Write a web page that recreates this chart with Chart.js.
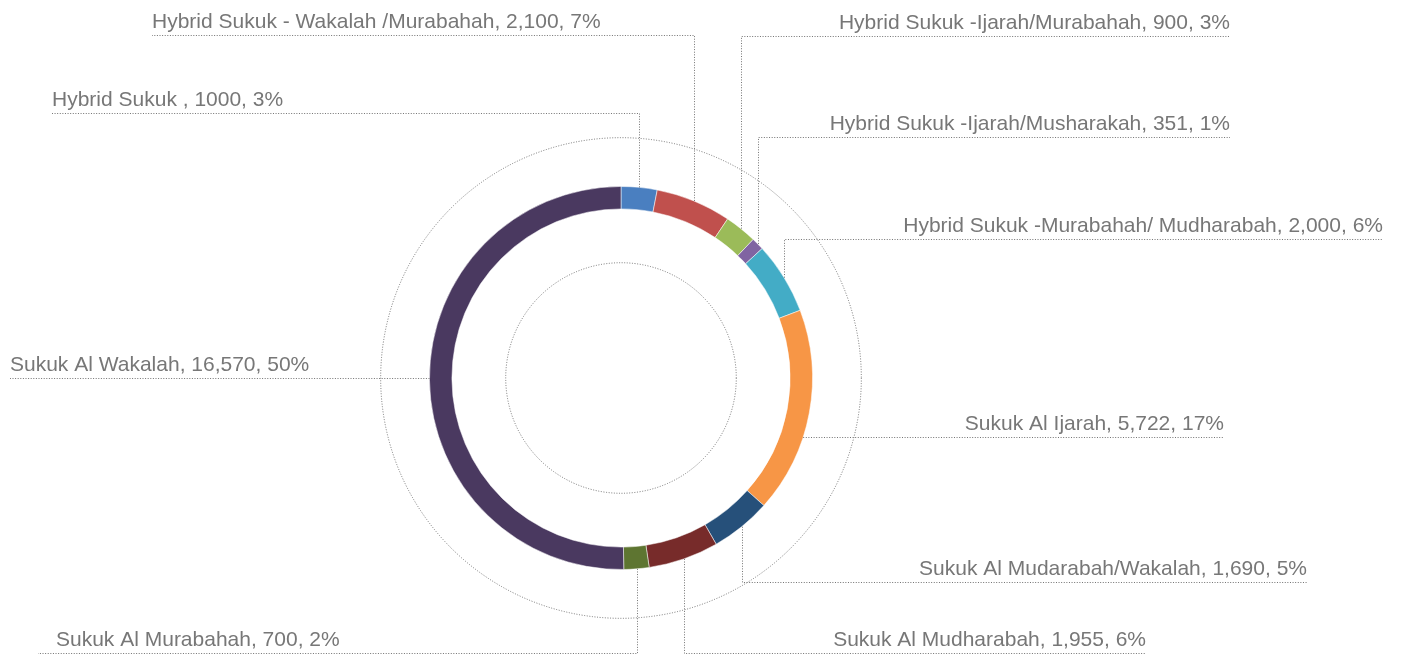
<!DOCTYPE html>
<html>
<head>
<meta charset="utf-8">
<script src="https://cdn.jsdelivr.net/npm/chart.js@4"></script>
<style>
  html, body { margin: 0; padding: 0; background: #fff; overflow: hidden; }
</style>
</head>
<body>
<canvas id="sukuk__chart" width="1401" height="657"></canvas>
<script>
const categories = [
    'Hybrid Sukuk ',
    'Hybrid Sukuk - Wakalah /Murabahah',
    'Hybrid Sukuk -Ijarah/Murabahah',
    'Hybrid Sukuk -Ijarah/Musharakah',
    'Hybrid Sukuk -Murabahah/ Mudharabah',
    'Sukuk Al Ijarah',
    'Sukuk Al Mudarabah/Wakalah',
    'Sukuk Al Mudharabah',
    'Sukuk Al Murabahah',
    'Sukuk Al Wakalah'
];
const values = [1000, 2100, 900, 351, 2000, 5722, 1690, 1955, 700, 16570];
const valueLabels = ['1000', '2,100', '900', '351', '2,000', '5,722', '1,690', '1,955', '700', '16,570'];
const pctLabels = ['3%', '7%', '3%', '1%', '6%', '17%', '5%', '6%', '2%', '50%'];

const sliceColors = ['#4a7fc0', '#c0504d', '#9bbb59', '#8064a2', '#43acc6',
                     '#f79646', '#26507a', '#772b2a', '#5e7531', '#4a3960'];

// where each label sits (x = outer end of the underline, y = underline)
const labelLayout = [
    { side: 'left',  x: 52,   y: 113, kind: 'v' },
    { side: 'left',  x: 152,  y: 35,  kind: 'v' },
    { side: 'right', x: 1230, y: 36,  kind: 'v' },
    { side: 'right', x: 1230, y: 137, kind: 'v' },
    { side: 'right', x: 1383, y: 239, kind: 'v' },
    { side: 'right', x: 1224, y: 437, kind: 'h' },
    { side: 'right', x: 1307, y: 582, kind: 'v' },
    { side: 'right', x: 1146, y: 653, kind: 'v' },
    { side: 'left',  x: 38,   y: 653, kind: 'v', textX: 56 },
    { side: 'left',  x: 10,   y: 378, kind: 'h' }
];

const dotted = (ctx) => {
    ctx.setLineDash([1, 1.6]);
    ctx.lineWidth = 1;
    ctx.strokeStyle = '#727272';
};

const leaderPlugin = {
    id: 'leaders',
    afterDatasetsDraw(chart) {
        const ctx = chart.ctx;
        const arcs = chart.getDatasetMeta(0).data;
        const cx = arcs[0].x, cy = arcs[0].y, r = arcs[0].outerRadius;

        ctx.save();
        dotted(ctx);
        // background rings
        [1.255, 0.602].forEach(f => {
            ctx.beginPath();
            ctx.arc(cx, cy, r * f, 0, Math.PI * 2);
            ctx.stroke();
        });

        ctx.font = '21px "Liberation Sans", Arial, sans-serif';
        ctx.fillStyle = '#777777';
        ctx.textBaseline = 'alphabetic';

        arcs.forEach((arc, i) => {
            const lay = labelLayout[i];
            const mid = (arc.startAngle + arc.endAngle) / 2;
            let ax = cx + r * Math.cos(mid);
            let ay = cy + r * Math.sin(mid);

            ctx.beginPath();
            if (lay.kind === 'h') {
                const dy = lay.y - cy;
                const dx = Math.sqrt(Math.max(r * r - dy * dy, 0));
                ax = lay.side === 'left' ? cx - dx : cx + dx;
                ctx.moveTo(ax, lay.y + 0.5);
                ctx.lineTo(lay.x, lay.y + 0.5);
            } else {
                ctx.moveTo(Math.round(ax) + 0.5, ay);
                ctx.lineTo(Math.round(ax) + 0.5, lay.y + 0.5);
                ctx.lineTo(lay.x, lay.y + 0.5);
            }
            ctx.stroke();

            const text = categories[i] + ', ' + valueLabels[i] + ', ' + pctLabels[i];
            if (lay.side === 'left') {
                ctx.textAlign = 'left';
                ctx.fillText(text, lay.textX || lay.x, lay.y - 7);
            } else {
                ctx.textAlign = 'right';
                ctx.fillText(text, lay.x, lay.y - 7);
            }
        });
        ctx.restore();
    }
};

new Chart(document.getElementById('sukuk__chart').getContext('2d'), {
    type: 'doughnut',
    data: {
        labels: categories,
        datasets: [{
            data: values,
            backgroundColor: sliceColors,
            borderColor: 'rgba(255, 255, 255, 0.5)',
            borderWidth: 1
        }]
    },
    options: {
        responsive: false,
        animation: false,
        cutout: '88.3%',
        layout: {
            padding: { top: 186, bottom: 87, left: 429, right: 588 }
        },
        plugins: {
            legend: { display: false },
            tooltip: { enabled: false }
        }
    },
    plugins: [leaderPlugin]
});
</script>
</body>
</html>
